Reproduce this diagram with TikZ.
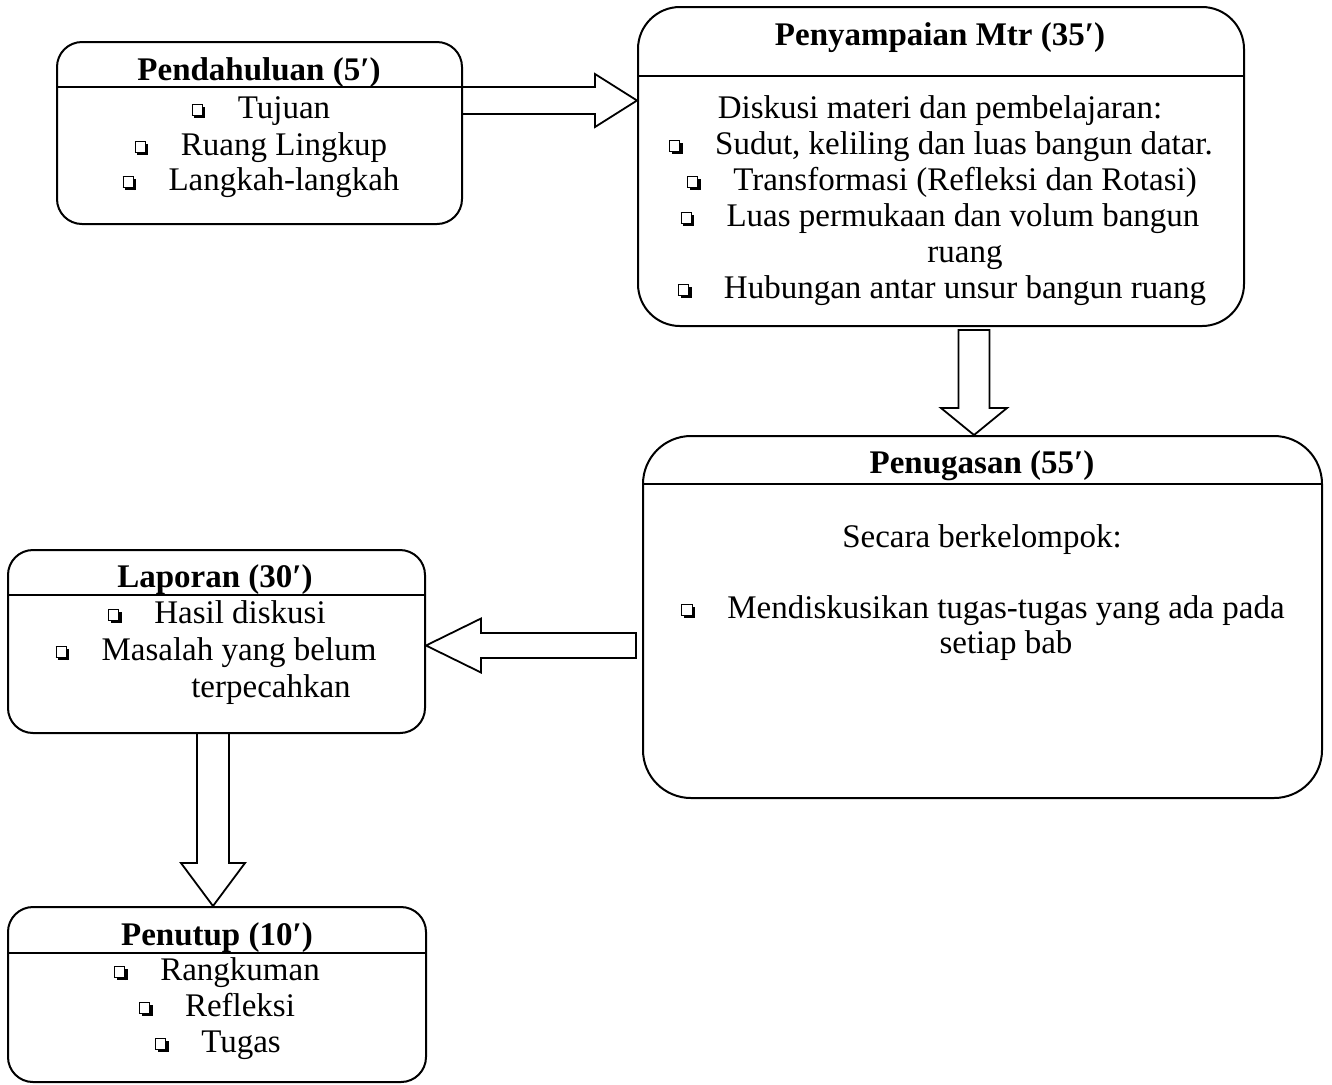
\documentclass[tikz,border=0pt]{standalone}
\usepackage{fontspec}
\setmainfont{Liberation Serif}
\usetikzlibrary{fit,calc}
\newcommand\fs{\fontsize{16.5}{19}\selectfont}
\newcommand\pr{′}
% shadowed square bullet built from rules
\newcommand\sq{\makebox[6.8pt][l]{%
 \rlap{\hspace{1.3pt}\rule[0pt]{5.5pt}{1.3pt}}%
 \rlap{\hspace{5.5pt}\rule[0pt]{1.3pt}{5.5pt}}%
 \rlap{\rule[1.3pt]{5.5pt}{0.4pt}}%
 \rlap{\rule[6.4pt]{5.5pt}{0.4pt}}%
 \rlap{\rule[1.3pt]{0.4pt}{5.5pt}}%
 \rlap{\hspace{5.1pt}\rule[1.3pt]{0.4pt}{5.5pt}}}}
\newcommand\bl[1]{\sq\hspace{16.2pt}#1}
\tikzset{
 box/.style={draw, line width=1pt, inner sep=0pt},
 divl/.style={line width=1pt},
 ttl/.style={anchor=base, inner sep=0pt, font=\fs\bfseries},
 txt/.style={anchor=base, inner sep=0pt, font=\fs},
 barrow/.style={draw, line width=0.9pt, line join=miter},
}
\begin{document}
\begin{tikzpicture}[x=0.5pt,y=-0.5pt]
\useasboundingbox (0,0) rectangle (1332,1084);
% ---------- boxes ----------
\node[box, rounded corners=12.5pt, fit={(57,42) (462,224)}] (pend) {};
\node[box, rounded corners=21pt, fit={(638,7) (1244,326)}] (peny) {};
\node[box, rounded corners=24pt, fit={(643,436) (1322,798)}] (penu) {};
\node[box, rounded corners=12.5pt, fit={(8,550) (425,733)}] (lap) {};
\node[box, rounded corners=12.5pt, fit={(8,907) (426,1082)}] (tut) {};
% dividers
\draw[divl] (pend.west |- 0,87) -- (pend.east |- 0,87);
\draw[divl] (peny.west |- 0,76) -- (peny.east |- 0,76);
\draw[divl] (penu.west |- 0,484) -- (penu.east |- 0,484);
\draw[divl] (lap.west |- 0,595) -- (lap.east |- 0,595);
\draw[divl] (tut.west |- 0,953) -- (tut.east |- 0,953);
% ---------- block arrows ----------
\coordinate (a1s) at (pend.east |- 0,100.5);
\coordinate (a1e) at (peny.west |- 0,100.5);
\draw[barrow] ($(a1s)+(0,-13.5)$) -- ($(a1e)+(-42,-13.5)$) -- ($(a1e)+(-42,-26.5)$) -- (a1e)
  -- ($(a1e)+(-42,26.5)$) -- ($(a1e)+(-42,13.5)$) -- ($(a1s)+(0,13.5)$);
\coordinate (a2s) at (974,330);
\coordinate (a2e) at (penu.north -| 974,0);
\draw[barrow] ($(a2s)+(-15.5,0)$) -- ($(a2e)+(-15.5,-27)$) -- ($(a2e)+(-33,-27)$) -- (a2e)
  -- ($(a2e)+(33,-27)$) -- ($(a2e)+(15.5,-27)$) -- ($(a2s)+(15.5,0)$) -- cycle;
\coordinate (a3s) at (636,645.5);
\coordinate (a3e) at (lap.east |- 0,645.5);
\draw[barrow] ($(a3s)+(0,-12.5)$) -- ($(a3e)+(55,-12.5)$) -- ($(a3e)+(55,-27)$) -- (a3e)
  -- ($(a3e)+(55,27)$) -- ($(a3e)+(55,12.5)$) -- ($(a3s)+(0,12.5)$) -- cycle;
\coordinate (a4s) at (lap.south -| 213,0);
\coordinate (a4e) at (tut.north -| 213,0);
\draw[barrow] ($(a4s)+(-16,0)$) -- ($(a4e)+(-16,-43)$) -- ($(a4e)+(-32,-43)$) -- (a4e)
  -- ($(a4e)+(32,-43)$) -- ($(a4e)+(16,-43)$) -- ($(a4s)+(16,0)$);
% ---------- texts ----------
\node[ttl] (t1) at (259,80) {Pendahuluan (5\pr)};
\node[txt] (t1a) at (261,118) {\bl{Tujuan}};
\node[txt] (t1b) at (261,155) {\bl{Ruang Lingkup}};
\node[txt] (t1c) at (261,190) {\bl{Langkah-langkah}};

\node[ttl] (t2) at (940,45) {Penyampaian Mtr (35\pr)};
\node[txt] (t2a) at (940,118) {Diskusi materi dan pembelajaran:};
\node[txt] (t2b) at (941,154) {\bl{Sudut, keliling dan luas bangun datar.}};
\node[txt] (t2c) at (942,190) {\bl{Transformasi (Refleksi dan Rotasi)}};
\node[txt] (t2d) at (940,226) {\bl{Luas permukaan dan volum bangun}};
\node[txt] (t2e) at (965,262) {ruang};
\node[txt] (t2f) at (942,298) {\bl{Hubungan antar unsur bangun ruang}};

\node[ttl] (t3) at (982,473) {Penugasan (55\pr)};
\node[txt] (t3a) at (982,547) {Secara berkelompok:};
\node[txt] (t3b) at (983,618) {\bl{Mendiskusikan tugas-tugas yang ada pada}};
\node[txt] (t3c) at (1006,653) {setiap bab};

\node[ttl] (t4) at (215,587) {Laporan (30\pr)};
\node[txt] (t4a) at (217,623) {\bl{Hasil diskusi}};
\node[txt] (t4b) at (216,660) {\bl{Masalah yang belum}};
\node[txt] (t4c) at (271,697) {terpecahkan};

\node[ttl] (t5) at (217,945) {Penutup (10\pr)};
\node[txt] (t5a) at (217,980) {\bl{Rangkuman}};
\node[txt] (t5b) at (217,1016) {\bl{Refleksi}};
\node[txt] (t5c) at (218,1052) {\bl{Tugas}};
\end{tikzpicture}
\end{document}
